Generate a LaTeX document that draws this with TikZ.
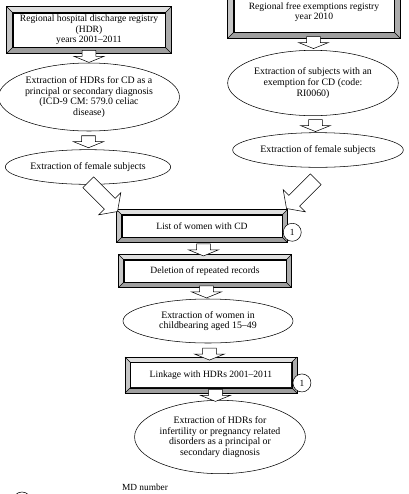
\documentclass[tikz,border=0pt]{standalone}
\usepackage{fontspec}
\setmainfont{Liberation Serif}
\usetikzlibrary{calc,shapes.geometric,shapes.arrows}

\begin{document}
\begin{tikzpicture}[x=0.75pt,y=-0.75pt]
    \tikzstyle{box}=[draw,fill=white,align=center,inner sep=1pt,
        font=\fontsize{7.2}{8}\selectfont]
    \tikzstyle{oval}=[ellipse,draw,align=center,inner sep=0pt,
        font=\fontsize{7.4}{8.1}\selectfont]
    \tikzstyle{darrow}=[single arrow,draw,fill=white,inner xsep=0pt,inner ysep=5pt,
        rotate=-90,single arrow head extend=6pt,
        single arrow tip angle=136,minimum height=9pt]
    \tikzstyle{bigarrow}=[single arrow,draw,fill=white,inner xsep=0pt,inner ysep=5.5pt,
        single arrow head extend=6pt,
        single arrow tip angle=110,minimum height=31pt,anchor=tip]
    \tikzstyle{numc}=[circle,draw,fill=white,inner sep=0pt,minimum size=13.5pt,
        font=\fontsize{7}{8}\selectfont]
    \useasboundingbox (0,0) rectangle (409,494);
    % Registries
    \node[box,minimum width=114pt,minimum height=25.5pt] (hdr) at (89,30)
        {Regional hospital discharge registry\\(HDR)\\years 2001--2011};
    \node[box,minimum width=120pt,minimum height=30pt] (exem) at (314,12)
        {Regional free exemptions registry\\year 2010};
    % Extractions
    \node[oval,minimum width=129pt,minimum height=51pt] (ell1) at (89,97)
        {Extraction of HDRs for CD as a\\principal or secondary diagnosis\\(ICD-9 CM: 579.0 celiac\\disease)};
    \node[oval,minimum width=128pt,minimum height=49pt] (ell2) at (313,83)
        {Extraction of subjects with an\\exemption for CD (code:\\RI0060)};
    \node[oval,minimum width=124pt,minimum height=26pt] (fem1) at (88,167)
        {Extraction of female subjects};
    \node[oval,minimum width=128pt,minimum height=26pt] (fem2) at (318,150)
        {Extraction of female subjects};
    % Women with CD
    \node[box,minimum width=120pt,minimum height=16.5pt] (list) at (202,226)
        {List of women with CD};
    \node[box,minimum width=121.5pt,minimum height=16.5pt] (del) at (205,271)
        {Deletion of repeated records};
    \node[oval,minimum width=127.5pt,minimum height=33pt] (child) at (208,321)
        {Extraction of women in\\childbearing aged 15--49};
    \node[box,minimum width=121pt,minimum height=19pt] (link) at (211,375)
        {Linkage with HDRs 2001--2011};
    \node[oval,minimum width=120pt,minimum height=55pt] (last) at (220,437)
        {Extraction of HDRs for\\infertility or pregnancy related\\disorders as a principal or\\secondary diagnosis};
    % Frames
    \foreach \b/\w in {hdr/6,exem/6,list/5,del/5,link/5}{
        \fill[gray!25] ($(\b.north west)+(-\w,-\w)$) -- ($(\b.north east)+(\w,-\w)$)
            -- (\b.north east) -- (\b.north west) -- cycle;
        \fill[gray!45] ($(\b.north west)+(-\w,-\w)$) -- (\b.north west)
            -- (\b.south west) -- ($(\b.south west)+(-\w,\w)$) -- cycle;
        \fill[gray!65] ($(\b.north east)+(\w,-\w)$) -- ($(\b.south east)+(\w,\w)$)
            -- (\b.south east) -- (\b.north east) -- cycle;
        \fill[gray!75] ($(\b.south west)+(-\w,\w)$) -- ($(\b.south east)+(\w,\w)$)
            -- (\b.south east) -- (\b.south west) -- cycle;
        \draw ($(\b.north west)+(-\w,-\w)$) rectangle ($(\b.south east)+(\w,\w)$);
        \draw (\b.north west) rectangle (\b.south east);
        \draw ($(\b.north west)+(-\w,-\w)$) -- (\b.north west);
        \draw ($(\b.north east)+(\w,-\w)$) -- (\b.north east);
        \draw ($(\b.south east)+(\w,\w)$) -- (\b.south east);
        \draw ($(\b.south west)+(-\w,\w)$) -- (\b.south west);
    }
    % Arrows
    \node[darrow] (a1) at ($(hdr.south)!.5!(ell1.north)$) {};
    \node[darrow] (a2) at ($(exem.south)!.5!(ell2.north)$) {};
    \node[darrow] (a3) at ($(ell1.south)!.5!(fem1.north)$) {};
    \node[darrow] (a4) at ($(ell2.south)!.5!(fem2.north)$) {};
    \node[bigarrow,rotate=-45] (d1) at ($(list.north west)+(-4,-3)$) {};
    \node[bigarrow,rotate=-135] (d2) at ($(list.north east)+(4,-6)$) {};
    \node[darrow] (a5) at ($(list.south)!.5!(del.north)$) {};
    \node[darrow] (a6) at ($(del.south)!.5!(child.north)$) {};
    \node[darrow] (a7) at ($(child.south)!.5!(link.north)$) {};
    \node[darrow] (a8) at ($(link.south)!.5!(last.north)$) {};
    % Record numbers
    \node[numc] (n1) at ($(list.south east)+(10,-5)$) {1};
    \node[numc] (n2) at ($(link.south east)+(10,-5)$) {1};
    % Legend
    \node[numc] (lg) at (22,501) {};
    \node[font=\fontsize{7}{7}\selectfont] (lgt) at (145,487) {MD number};
\end{tikzpicture}
\end{document}
